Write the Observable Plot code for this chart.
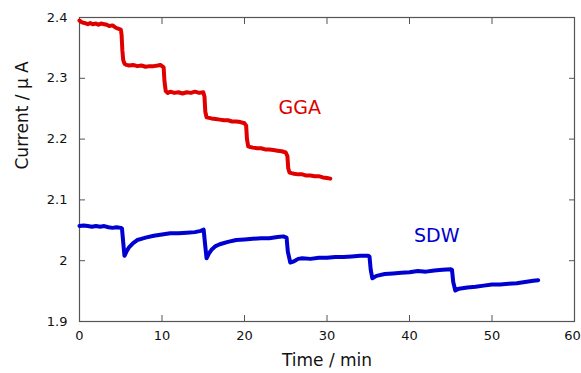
<!DOCTYPE html>
<html><head><meta charset="utf-8">
<script src="https://cdn.jsdelivr.net/npm/d3@7"></script>
<script src="https://cdn.jsdelivr.net/npm/@observablehq/plot@0.6"></script>
<style>body{margin:0;background:#fff}</style>
</head><body><div id="chart"></div>
<script>
const xTicks = [0, 10, 20, 30, 40, 50, 60];
const yTicks = [1.9, 2.0, 2.1, 2.2, 2.3, 2.4];
const yTickLabels = ["1.9", "2", "2.1", "2.2", "2.3", "2.4"];
const xTitle = "Time / min";
const yTitle = "Current / μ A";

const ggaTime = [0,0.3,0.6,1,1.3,1.6,2,2.3,2.6,3,3.3,3.6,4,4.3,4.6,5,5.1,5.2,5.3,5.45,5.7,6,6.5,7,7.5,8,8.5,9,9.5,9.8,10,10.2,10.3,10.45,10.7,11,11.5,12,12.5,13,13.5,14,14.5,15,15.15,15.25,15.4,15.7,16,16.5,17,17.5,18,18.5,19,19.5,20,20.2,20.3,20.45,20.7,21,21.5,22,22.5,23,23.5,24,24.5,25,25.2,25.3,25.45,25.7,26,26.5,27,27.5,28,28.5,29,29.5,30,30.4];
const ggaValue = [2.395,2.392,2.391,2.389,2.391,2.389,2.390,2.388,2.390,2.389,2.388,2.386,2.387,2.384,2.382,2.380,2.372,2.345,2.330,2.324,2.322,2.321,2.322,2.320,2.321,2.319,2.320,2.320,2.321,2.322,2.320,2.318,2.295,2.279,2.276,2.278,2.276,2.277,2.275,2.277,2.276,2.278,2.276,2.277,2.270,2.245,2.236,2.235,2.234,2.233,2.232,2.231,2.231,2.229,2.229,2.228,2.226,2.222,2.200,2.188,2.187,2.186,2.185,2.185,2.183,2.183,2.182,2.181,2.180,2.178,2.172,2.152,2.145,2.144,2.143,2.142,2.142,2.140,2.140,2.139,2.139,2.137,2.136,2.135];

const sdwTime = [0,0.5,1,1.5,2,2.5,3,3.5,4,4.5,5,5.15,5.3,5.45,5.7,6,6.5,7,7.5,8,9,10,11,12,13,14,14.7,15.05,15.2,15.4,15.7,16,16.5,17,18,19,20,21,22,23,24,24.7,25.1,25.25,25.55,26,26.5,27,28,29,30,31,32,33,34,35,35.15,35.3,35.5,36,37,38,39,40,41,42,43,44,45,45.15,45.3,45.55,46,47,48,49,50,51,52,53,54,55,55.6];
const sdwValue = [2.057,2.058,2.057,2.056,2.057,2.056,2.057,2.055,2.054,2.055,2.054,2.053,2.030,2.008,2.015,2.022,2.029,2.034,2.036,2.038,2.041,2.043,2.045,2.045,2.046,2.047,2.049,2.051,2.030,2.004,2.012,2.018,2.024,2.027,2.031,2.034,2.035,2.036,2.037,2.037,2.039,2.040,2.038,2.015,1.997,1.999,2.003,2.004,2.003,2.005,2.005,2.006,2.006,2.007,2.008,2.008,2.007,1.985,1.971,1.975,1.978,1.979,1.980,1.981,1.983,1.982,1.984,1.985,1.986,1.985,1.965,1.951,1.954,1.956,1.957,1.959,1.961,1.961,1.962,1.963,1.965,1.967,1.968];

const gga = ggaTime.map((t, i) => ({t, v: ggaValue[i]}));
const sdw = sdwTime.map((t, i) => ({t, v: sdwValue[i]}));
const labels = [
  {t: 26.7, v: 2.252, s: "GGA", c: "#e00000"},
  {t: 43.3, v: 2.040, s: "SDW", c: "#0000d0"}
];

const font = "'DejaVu Sans', sans-serif";
const chart = Plot.plot({
  width: 581, height: 373,
  marginLeft: 79, marginRight: 7, marginTop: 17, marginBottom: 52,
  style: {fontFamily: font, fontSize: "13px", color: "#111", background: "#fff"},
  x: {domain: [0, 60]},
  y: {domain: [1.9, 2.4]},
  marks: [
    Plot.frame({stroke: "#555", strokeWidth: 1.2}),
    Plot.axisX(xTicks, {anchor: "bottom", tickSize: -6, tickFormat: () => "", label: null, stroke: "#555"}),
    Plot.axisX(xTicks, {anchor: "top", tickSize: -6, tickFormat: () => "", label: null, stroke: "#555"}),
    Plot.axisY(yTicks, {anchor: "left", tickSize: -6, tickFormat: () => "", label: null, stroke: "#555"}),
    Plot.axisY(yTicks, {anchor: "right", tickSize: -6, tickFormat: () => "", label: null, stroke: "#555"}),
    Plot.axisX(xTicks.slice(0, -1), {anchor: "bottom", tickSize: 0, tickPadding: 9, fontSize: 13, label: null}),
    Plot.axisX(xTicks.slice(-1), {anchor: "bottom", tickSize: 0, tickPadding: 9, fontSize: 13, label: null, dx: -2}),
    Plot.axisY(yTicks, {anchor: "left", tickSize: 0, tickPadding: 12, fontSize: 13, tickFormat: (d, i) => yTickLabels[i], label: null}),
    Plot.text([xTitle], {frameAnchor: "bottom", dy: 44, fontSize: 17, fill: "#111"}),
    Plot.text([yTitle], {frameAnchor: "left", dx: -57, rotate: -90, fontSize: 17, fill: "#111"}),
    Plot.line(gga, {x: "t", y: "v", stroke: "#e00000", strokeWidth: 4}),
    Plot.line(sdw, {x: "t", y: "v", stroke: "#0000d0", strokeWidth: 4}),
    Plot.text(labels, {x: "t", y: "v", text: "s", fill: "c", fontSize: 19})
  ]
});
document.getElementById("chart").append(chart);
</script></body></html>
